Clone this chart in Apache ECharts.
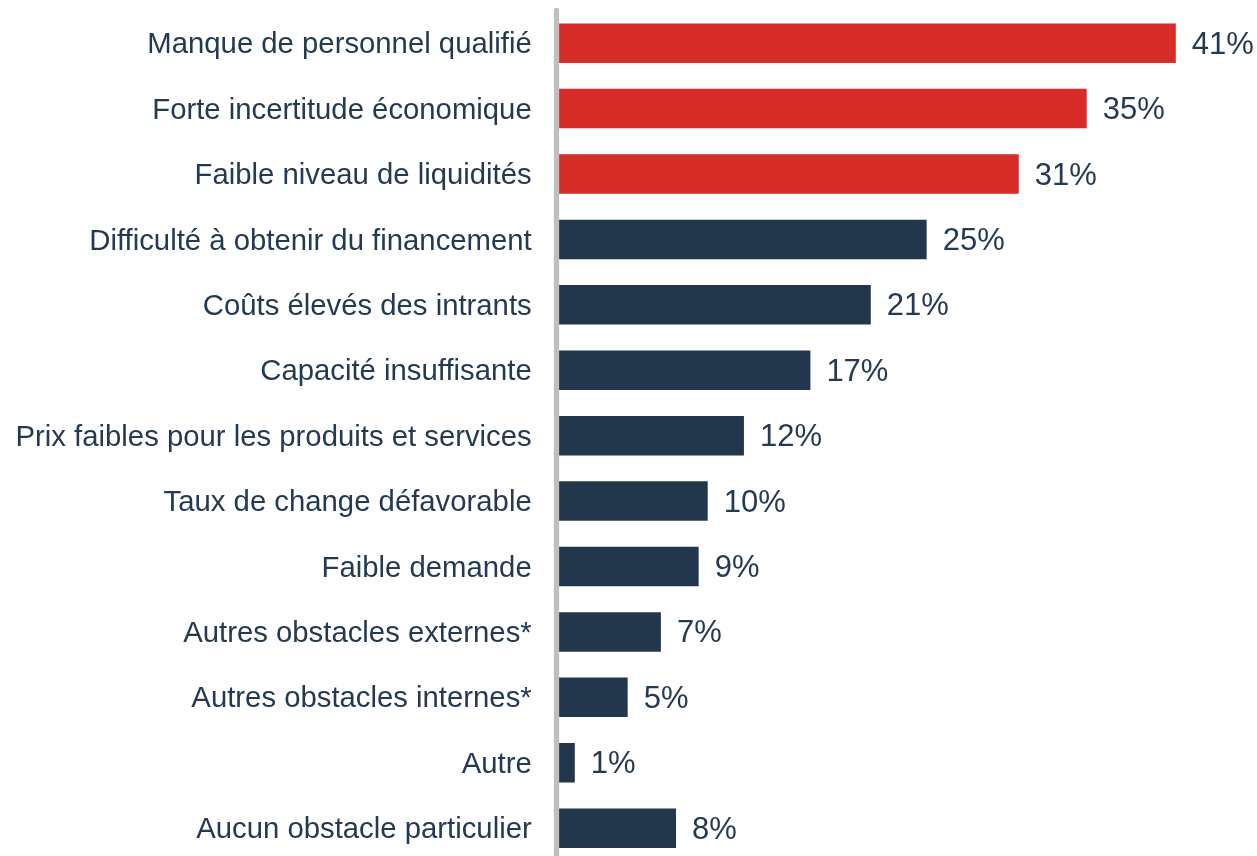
<!DOCTYPE html>
<html>
<head>
<meta charset="utf-8">
<title>Obstacles</title>
<script src="https://cdn.jsdelivr.net/npm/echarts@6/dist/echarts.min.js"></script>
<style>
  html, body { margin: 0; padding: 0; background: #fff; overflow: hidden; }
  /* a bit taller than the window: the last band runs off the bottom edge */
  #chart { width: 1257px; height: 866px; }
</style>
</head>
<body>
<div id="chart"></div>
<script>
// categories, top to bottom
const categories = [
  'Manque de personnel qualifié',
  'Forte incertitude économique',
  'Faible niveau de liquidités',
  'Difficulté à obtenir du financement',
  'Coûts élevés des intrants',
  'Capacité insuffisante',
  'Prix faibles pour les produits et services',
  'Taux de change défavorable',
  'Faible demande',
  'Autres obstacles externes*',
  'Autres obstacles internes*',
  'Autre',
  'Aucun obstacle particulier'
]
// share of firms (%)
const values = [41.0, 35.1, 30.6, 24.5, 20.8, 16.8, 12.4, 10.0, 9.4, 6.9, 4.7, 1.2, 7.9]
// first N bars are highlighted in red
const highlightCount = 3

const RED = '#d72c27'
const NAVY = '#22374b'
const TEXT = '#233a52'
const FONT = '"Liberation Sans", Arial, sans-serif'

const chart = echarts.init(document.getElementById('chart'))
chart.setOption({
  animation: false,
  backgroundColor: '#fff',
  grid: { left: 556.7, top: 10.5, width: 679.5, height: 850.4, containLabel: false },
  xAxis: {
    type: 'value', min: 0, max: 45,
    show: false
  },
  yAxis: {
    type: 'category',
    inverse: true,
    data: categories,
    z: 5,
    axisLine: { show: true, lineStyle: { color: '#bfbfbf', width: 5.3 } },
    axisTick: { show: false },
    splitLine: { show: false },
    axisLabel: {
      margin: 25,
      formatter: (v) => '{c|' + v + '}',
      rich: {
        c: {
          color: TEXT,
          fontSize: 29.3,
          fontFamily: FONT,
          padding: [4, 0, 0, 0]
        }
      }
    }
  },
  series: [{
    type: 'bar',
    data: values,
    barWidth: 39.5,
    itemStyle: {
      color: (p) => p.dataIndex < highlightCount ? RED : NAVY
    },
    label: {
      show: true,
      position: 'right',
      distance: 16,
      offset: [0, 2],
      color: TEXT,
      fontSize: 31,
      fontFamily: FONT,
      formatter: (p) => Math.round(p.value) + '%'
    }
  }]
})
</script>
</body>
</html>
